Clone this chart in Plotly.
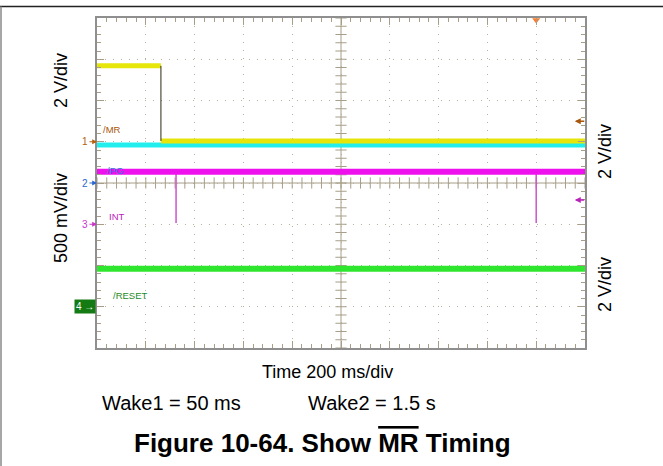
import numpy as np
import plotly.graph_objects as go

# figure and graticule box (pixels)
W, H = 663, 466
L, T, R, B = 97, 18, 585, 348

FONT = "Arial, Liberation Sans, sans-serif"
TICK = "#a69e88"
GRID = "#b9b19b"

# ── scope traces, in divisions (10 x 8 graticule) ──────────────────────
mr_high_x = [0, 1.31]
mr_high_y = [6.84, 6.84]
mr_low_x = [1.31, 10]
mr_low_y = [5.02, 5.02]
pg_x = [0, 10]
pg_y = [4.92, 4.92]
int_x = [0, 10]
int_y = [4.27, 4.27]
int_spike_x = [1.62, 9.0]
int_spike_low = 3.03
reset_x = [0, 10]
reset_y = [1.92, 1.92]

# channel ground markers (left) and labels
ch_names = ["1", "2", "3", "4"]
ch_levels = [5.0, 4.0, 3.0, 1.0]
ch_colors = ["#b5600f", "#2a66cc", "#cc33cc", "#147a14"]
lbl_text = ["/MR", "/PG", "INT", "/RESET"]
lbl_x = [0.08, 0.16, 0.2, 0.28]
lbl_y = [5.3, 4.3, 3.2, 1.28]
lbl_colors = ["#a8560c", "#3377dd", "#bb22bb", "#1f8a1f"]

# trigger level markers (right)
trig_levels = [5.5, 3.59]
trig_colors = ["#a8560c", "#bb22bb"]
trig_pos = 9.0


def px(xp):
    return (xp - L) / (R - L)


def py(yp):
    return (B - yp) / (B - T)


fig = go.Figure()

# centre cross ticks of the graticule
grat_x = np.arange(0, 10.001, 0.2)
grat_y = np.arange(0, 8.001, 0.2)
fig.add_trace(go.Scatter(x=grat_x, y=[4] * len(grat_x), mode="markers",
                         marker=dict(symbol="line-ns", size=8, line=dict(width=1, color=TICK)),
                         hoverinfo="skip", showlegend=False))
fig.add_trace(go.Scatter(x=[5] * len(grat_y), y=grat_y, mode="markers",
                         marker=dict(symbol="line-ew", size=8, line=dict(width=1, color=TICK)),
                         hoverinfo="skip", showlegend=False))

# signals
fig.add_trace(go.Scatter(x=pg_x, y=pg_y, mode="lines",
                         line=dict(color="#22eeee", width=5), showlegend=False))
fig.add_trace(go.Scatter(x=mr_high_x, y=mr_high_y, mode="lines",
                         line=dict(color="#e6e60a", width=5), showlegend=False))
fig.add_trace(go.Scatter(x=mr_low_x, y=mr_low_y, mode="lines",
                         line=dict(color="#e6e60a", width=5), showlegend=False))
fig.add_trace(go.Scatter(x=[mr_high_x[-1], mr_low_x[0]], y=[mr_high_y[-1], mr_low_y[0]],
                         mode="lines", line=dict(color="#2a2a10", width=1), showlegend=False))

sx, sy = [], []
for xs in int_spike_x:
    sx += [xs, xs, None]
    sy += [int_y[0], int_spike_low, None]
fig.add_trace(go.Scatter(x=sx, y=sy, mode="lines",
                         line=dict(color="#cc55cc", width=1.5), showlegend=False))
fig.add_trace(go.Scatter(x=int_x, y=int_y, mode="lines",
                         line=dict(color="#ee11ee", width=6), showlegend=False))
fig.add_trace(go.Scatter(x=reset_x, y=reset_y, mode="lines",
                         line=dict(color="#2ee62e", width=6), showlegend=False))

# trigger position marker on top edge
fig.add_trace(go.Scatter(x=[trig_pos], y=[7.95], mode="markers", cliponaxis=False,
                         marker=dict(symbol="triangle-down", size=7, color="#ff7a2a"),
                         showlegend=False))

ann = []
# channel markers
for name, lvl, col in zip(ch_names[:3], ch_levels[:3], ch_colors[:3]):
    ann.append(dict(x=0, y=lvl, xref="x", yref="y", text=name, showarrow=True,
                    ax=-12, ay=0, arrowhead=2, arrowsize=0.8, arrowwidth=1.2,
                    arrowcolor=col, font=dict(size=10, color=col, family=FONT)))
ann.append(dict(x=0, y=ch_levels[3], xref="x", yref="y", text=ch_names[3] + " →",
                showarrow=False, xanchor="right", yanchor="middle", xshift=-1,
                bgcolor=ch_colors[3], borderpad=1,
                font=dict(size=10, color="white", family=FONT)))

for t, x, y, c in zip(lbl_text, lbl_x, lbl_y, lbl_colors):
    ann.append(dict(x=x, y=y, xref="x", yref="y", text=t, showarrow=False,
                    xanchor="left", yanchor="middle",
                    font=dict(size=9.5, color=c, family=FONT)))

for lvl, col in zip(trig_levels, trig_colors):
    ann.append(dict(x=9.79, y=lvl, xref="x", yref="y", text="", showarrow=True,
                    ax=11, ay=0, arrowhead=2, arrowsize=0.8, arrowwidth=1.5,
                    arrowcolor=col))


def label(text, x, y, size, anchor="center"):
    return dict(x=px(x), y=py(y), xref="paper", yref="paper", text=text, showarrow=False,
                xanchor=anchor, yanchor="middle",
                font=dict(size=size, color="black", family=FONT))


side = [("2 V/div", 61, 81), ("500 mV/div", 61, 218), ("2 V/div", 605, 152), ("2 V/div", 605, 285)]
for t, x, y in side:
    a = label(t, x, y, 18)
    a["textangle"] = -90
    ann.append(a)

ann.append(label("Time 200 ms/div", 327, 372, 18))
ann.append(label("Wake1 = 50 ms", 100, 403, 20, "left"))
ann.append(label("Wake2 = 1.5 s", 306, 403, 20, "left"))
ann.append(label('<b>Figure 10-64. Show <span style="text-decoration:overline">MR</span> Timing</b>',
                 322, 443, 26))

shapes = [
    dict(type="line", xref="x", yref="y", x0=5, x1=5, y0=0, y1=8,
         line=dict(color=TICK, width=1), layer="below"),
    dict(type="line", xref="x", yref="y", x0=0, x1=10, y0=4, y1=4,
         line=dict(color=TICK, width=1), layer="below"),
    dict(type="line", xref="paper", yref="paper", x0=px(0), x1=px(W), y0=py(6.5), y1=py(6.5),
         line=dict(color="#222222", width=1.5)),
    dict(type="line", xref="paper", yref="paper", x0=px(1), x1=px(1), y0=py(6.5), y1=py(H),
         line=dict(color="#8a8a8a", width=1.5)),
]

axis_common = dict(
    showgrid=True, gridcolor=GRID, griddash="1px,7px", gridwidth=1,
    zeroline=False, showline=True, linecolor="#8f8f8f", linewidth=2, mirror="ticks",
    ticks="inside", ticklen=7, tickcolor=TICK, tickwidth=1,
    minor=dict(ticks="inside", ticklen=4, tickcolor=TICK, tickwidth=1, showgrid=False),
    showticklabels=False, fixedrange=True,
)

fig.update_layout(
    width=W, height=H,
    margin=dict(l=L, r=W - R, t=T, b=H - B),
    paper_bgcolor="white", plot_bgcolor="white",
    font=dict(family=FONT),
    showlegend=False,
    annotations=ann,
    shapes=shapes,
)
fig.update_xaxes(range=[0, 10], dtick=1, **axis_common)
fig.update_yaxes(range=[0, 8], dtick=1, **axis_common)
fig.update_xaxes(minor_dtick=0.2)
fig.update_yaxes(minor_dtick=0.2)

fig.write_html("out.html", config={"displayModeBar": False},
               post_script="document.body.style.margin='0';")
